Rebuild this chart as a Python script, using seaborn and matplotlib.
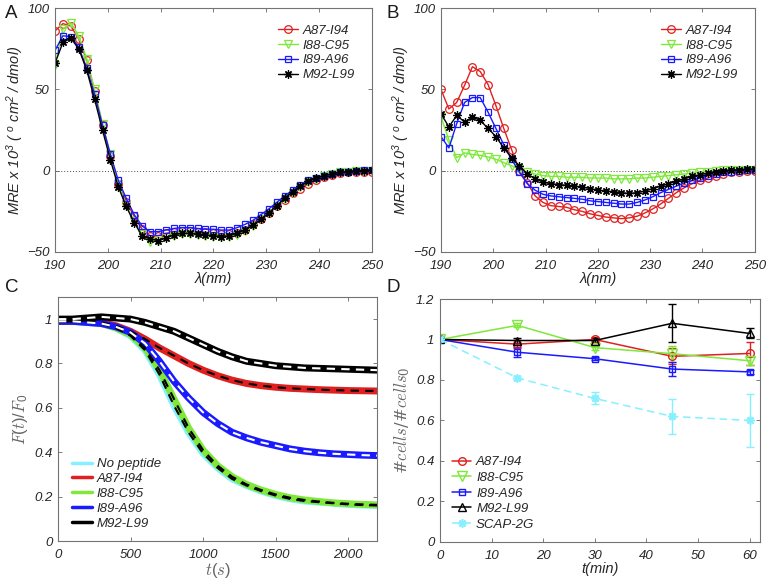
import numpy as np
import pandas as pd
import matplotlib
matplotlib.use("Agg")
import matplotlib.pyplot as plt
from matplotlib.ticker import FuncFormatter
import seaborn as sns

# ---- panel A / B: CD spectra ----
wavelength = [190, 191.5, 193, 194.5, 196, 197.5, 199, 200.5, 202, 203.5, 205,
              206.5, 208, 209.5, 211, 212.5, 214, 215.5, 217, 218.5, 220,
              221.5, 223, 224.5, 226, 227.5, 229, 230.5, 232, 233.5, 235,
              236.5, 238, 239.5, 241, 242.5, 244, 245.5, 247, 248.5, 250]

a_a87 = [86, 90.5, 89, 81, 68, 49, 28, 9, -8, -19, -28, -36, -40, -40, -38.5,
         -37.5, -37, -37, -37.5, -38, -38.5, -39, -39, -38.5, -36.5, -33,
         -29.5, -26, -22, -18, -14, -11, -8, -5.5, -4, -2.5, -1.5, -1, -1,
         -0.5, -0.5]
a_i88 = [65, 87, 91, 83, 69, 50, 29, 10, -8, -21, -31, -39, -44, -43, -41,
         -40, -39, -39, -39.5, -40, -40.5, -41, -40.5, -39.5, -37, -34, -30,
         -26, -22, -17.5, -13.5, -10, -7, -5, -3, -2, -1, -0.5, 0, 0, 0]
a_i89 = [74, 83, 82.5, 76, 63, 47, 28, 10, -6, -17, -27, -34, -37.5, -37.5,
         -36.5, -35.5, -35, -35, -35.5, -36, -36, -36.5, -36.5, -35, -33,
         -30.5, -27, -23.5, -19.5, -15.5, -12, -9, -6, -4.5, -3, -2, -1,
         -0.5, 0, 0.5, 0.5]
a_m92 = [66, 79, 81.5, 75, 62, 44, 25, 6.5, -10, -22, -32, -40, -42, -43,
         -41.5, -39.5, -38.5, -38.5, -39, -39.5, -40, -40.5, -40, -38.5,
         -36.5, -33.5, -30, -26, -21.5, -17, -13, -9.5, -6.5, -4.5, -3, -2,
         -1, -0.5, 0, 0, 0.5]

b_a87 = [50, 38, 42, 52.5, 64, 61, 53, 40, 26, 13, 0, -7.5, -15.5, -19.5,
         -21.5, -22, -22.5, -24, -25, -26.5, -27.5, -28.5, -29, -29.5, -29,
         -28, -26, -23.5, -20.5, -17, -13.5, -10.5, -8, -6, -4.5, -3, -2, -1,
         -0.5, 0, 0]
b_i88 = [33, 19, 8, 11, 10, 9.5, 8.5, 7, 5, 3, 1, -1, -2, -3, -3.5, -3.5, -4,
         -4, -4, -4.5, -4.5, -4.5, -5, -5, -5, -4.5, -4.5, -4, -3.5, -3, -2.5,
         -2, -1.5, -1, -0.5, 0, 0.3, 0.5, 0.5, 0.5, 0.5]
b_i89 = [21, 14, 29, 42, 45, 45, 36, 26, 16, 7, -1, -8, -12, -14.5, -15.5,
         -16, -16.5, -17, -17.5, -18.5, -19, -19.5, -20, -20.5, -20.5, -19.5,
         -18, -16, -13.5, -11.5, -9.5, -7.5, -6, -4.5, -3, -2, -1, -0.5, 0,
         0.5, 0.5]
b_m92 = [35, 27, 34, 30, 33, 31, 26, 21, 14, 8, 3, -2, -5, -7, -8, -8.5, -9,
         -9.5, -10, -11, -12, -12.5, -13, -13.5, -14, -13.5, -12.5, -11, -9.5,
         -8, -6.5, -5, -3.5, -2.5, -1.5, -0.5, 0, 0.5, 0.5, 1, 1]

# ---- panel C: fluorescence vs time ----
time_s = [0, 100, 200, 300, 400, 500, 600, 700, 800, 900, 1000, 1100, 1200,
          1300, 1400, 1500, 1600, 1700, 1800, 1900, 2000, 2100, 2200]
c_none = [0.99, 0.99, 0.985, 0.98, 0.96, 0.925, 0.86, 0.75, 0.61, 0.49, 0.395,
          0.33, 0.28, 0.25, 0.225, 0.205, 0.19, 0.18, 0.175, 0.17, 0.165,
          0.162, 0.16]
c_a87 = [0.99, 0.99, 0.99, 0.985, 0.97, 0.945, 0.91, 0.87, 0.835, 0.80, 0.77,
         0.745, 0.725, 0.71, 0.70, 0.693, 0.688, 0.685, 0.682, 0.68, 0.678,
         0.677, 0.676]
c_i88 = [0.99, 0.99, 0.985, 0.98, 0.96, 0.93, 0.87, 0.77, 0.64, 0.51, 0.41,
         0.34, 0.29, 0.255, 0.23, 0.21, 0.195, 0.185, 0.178, 0.172, 0.168,
         0.165, 0.163]
c_i89 = [0.99, 0.99, 0.985, 0.98, 0.965, 0.94, 0.89, 0.81, 0.72, 0.645, 0.58,
         0.53, 0.49, 0.465, 0.445, 0.43, 0.415, 0.405, 0.398, 0.393, 0.39,
         0.387, 0.385]
c_m92 = [1.0, 1.0, 1.005, 1.01, 1.005, 1.0, 0.985, 0.965, 0.945, 0.915, 0.885,
         0.855, 0.83, 0.81, 0.80, 0.79, 0.785, 0.78, 0.778, 0.776, 0.774,
         0.772, 0.77]

# ---- panel D: cell counts ----
time_min = [0, 15, 30, 45, 60]
d_a87 = [1.0, 0.977, 1.0, 0.917, 0.931]
d_a87_err = [0, 0.02, 0.01, 0.04, 0.055]
d_i88 = [1.0, 1.07, 0.96, 0.93, 0.895]
d_i88_err = [0, 0.01, 0.01, 0.04, 0.02]
d_i89 = [1.0, 0.937, 0.905, 0.854, 0.84]
d_i89_err = [0, 0.025, 0.008, 0.035, 0.008]
d_m92 = [1.0, 0.995, 0.995, 1.08, 1.03]
d_m92_err = [0, 0.01, 0.01, 0.093, 0.025]
d_scap = [1.0, 0.81, 0.709, 0.62, 0.60]
d_scap_err = [0, 0.01, 0.03, 0.085, 0.13]

RED = "#e02020"
GREEN = "#7fe83a"
BLUE = "#1a1aff"
BLACK = "black"
CYAN = "#86f0ff"
ASTERISK = (8, 2, 0)

sns.set_style("ticks")
plt.rcParams["font.family"] = ["Liberation Sans", "DejaVu Sans"]
plt.rcParams["mathtext.default"] = "regular"
plt.rcParams["xtick.direction"] = "in"
plt.rcParams["ytick.direction"] = "in"
plt.rcParams["xtick.top"] = True
plt.rcParams["ytick.right"] = True

fig = plt.figure(figsize=(7.67, 5.84), dpi=100)
ax_a = fig.add_axes([0.0717, 0.5685, 0.413, 0.4175])
ax_b = fig.add_axes([0.575, 0.5685, 0.409, 0.4175])
ax_c = fig.add_axes([0.0756, 0.0736, 0.416, 0.418])
ax_d = fig.add_axes([0.5737, 0.072, 0.417, 0.416])

fmt_g = FuncFormatter(lambda v, p: f"{v:g}")
LEG = dict(frameon=False, borderaxespad=0, handlelength=1.5,
           handletextpad=0.35, prop={"style": "italic", "size": 9.5})


def style_axes(ax):
    for s in ax.spines.values():
        s.set_color("0.45")
        s.set_linewidth(0.8)
    ax.tick_params(which="both", direction="in", top=True, right=True,
                   length=3, width=0.6, color="0.4", labelsize=9.5,
                   labelcolor="0.15")
    ax.tick_params(axis="x", pad=6)
    ax.tick_params(axis="y", pad=4)
    for lab in ax.get_xticklabels() + ax.get_yticklabels():
        lab.set_fontstyle("italic")


# spectra panels
cd_series = [("A87-I94", RED, "o", 5.5),
             ("I88-C95", GREEN, "v", 6),
             ("I89-A96", BLUE, "s", 4.5),
             ("M92-L99", BLACK, ASTERISK, 6)]
mre_label = "MRE x 10$^3$ ( $^o$ cm$^2$ / dmol)"

for ax, data in [(ax_a, [a_a87, a_i88, a_i89, a_m92]),
                 (ax_b, [b_a87, b_i88, b_i89, b_m92])]:
    ax.axhline(0, color="0.3", lw=0.7, ls=(0, (1, 2)))
    for (name, col, mk, ms), vals in zip(cd_series, data):
        sns.lineplot(x=wavelength, y=vals, ax=ax, color=col, lw=1.0,
                     marker=mk, ms=ms, mfc="none", mec=col, mew=0.9,
                     label=name)
    ax.set_xlim(190, 250)
    ax.set_ylim(-50, 100)
    ax.set_xticks(range(190, 251, 10))
    ax.set_yticks([-50, 0, 50, 100])
    ax.set_xlabel("λ(nm)", fontsize=10.5, style="italic", labelpad=0,
                  color="0.15")
    ax.set_ylabel(mre_label, fontsize=10.5, style="italic", color="0.15",
                  labelpad=1)
    ax.legend(loc="upper right", bbox_to_anchor=(0.962, 0.955),
              labelspacing=0.2, **LEG)
    style_axes(ax)

# fluorescence panel
c_series = [("No peptide", CYAN, c_none), ("A87-I94", RED, c_a87),
            ("I88-C95", GREEN, c_i88), ("I89-A96", BLUE, c_i89),
            ("M92-L99", BLACK, c_m92)]
draw_order = [0, 2, 1, 3, 4]
for i in draw_order:
    name, col, vals = c_series[i]
    sns.lineplot(x=time_s, y=vals, ax=ax_c, color=col, lw=5, label=name)
fits = [(c_none, "black"), (c_i88, "black"), (c_a87, "black"),
        (c_i89, "white"), (c_m92, "white")]
for vals, col in fits:
    sns.lineplot(x=time_s, y=vals, ax=ax_c, color=col, lw=1.5,
                 ls=(0, (4, 3)), legend=False)
handles, labels = ax_c.get_legend_handles_labels()
order = [labels.index(n) for n, _, _ in c_series]
leg = ax_c.legend([handles[k] for k in order], [labels[k] for k in order],
                  loc="lower left", bbox_to_anchor=(0.028, 0.025),
                  labelspacing=0.2, **LEG)
for line in leg.get_lines():
    line.set_linewidth(2.5)
ax_c.set_xlim(0, 2200)
ax_c.set_ylim(0, 1.1)
ax_c.set_xticks([0, 500, 1000, 1500, 2000])
ax_c.set_yticks([0, 0.2, 0.4, 0.6, 0.8, 1.0])
ax_c.yaxis.set_major_formatter(fmt_g)
ax_c.set_xlabel(r"$\mathit{t}(\mathit{s})$", fontsize=12, color="0.4",
                math_fontfamily="cm", labelpad=0)
ax_c.set_ylabel(r"$\mathit{F}(\mathit{t})/\mathit{F}_0$", fontsize=12,
                color="0.4", math_fontfamily="cm", labelpad=3)
style_axes(ax_c)

# cell count panel
d_series = [("A87-I94", RED, "o", 5.5, "-", d_a87, d_a87_err),
            ("I88-C95", GREEN, "v", 6.5, "-", d_i88, d_i88_err),
            ("I89-A96", BLUE, "s", 5, "-", d_i89, d_i89_err),
            ("M92-L99", BLACK, "^", 6, "-", d_m92, d_m92_err),
            ("SCAP-2G", CYAN, ASTERISK, 6, (0, (5, 3)), d_scap, d_scap_err)]
for name, col, mk, ms, ls, vals, err in d_series:
    ax_d.errorbar(time_min, vals, yerr=err, fmt="none", ecolor=col,
                  elinewidth=1.0, capsize=3, capthick=1.0)
for name, col, mk, ms, ls, vals, err in d_series:
    mew = 1.2 if mk == ASTERISK else 1.0
    sns.lineplot(x=time_min, y=vals, ax=ax_d, color=col, lw=1.1, ls=ls,
                 marker=mk, ms=ms, mfc="none", mec=col, mew=mew, label=name)
ax_d.legend(loc="lower left", bbox_to_anchor=(0.02, 0.025),
            labelspacing=0.25, **LEG)
ax_d.set_xlim(0, 62)
ax_d.set_ylim(0, 1.2)
ax_d.set_xticks(range(0, 61, 10))
ax_d.set_yticks([0, 0.2, 0.4, 0.6, 0.8, 1.0, 1.2])
ax_d.yaxis.set_major_formatter(fmt_g)
ax_d.set_xlabel("t(min)", fontsize=10.5, style="italic", color="0.15",
                labelpad=0)
ax_d.set_ylabel(r"#$\mathit{cells}/$#$\mathit{cells}_0$", fontsize=12,
                color="0.4", family=["DejaVu Serif"], math_fontfamily="cm",
                labelpad=3)
style_axes(ax_d)

for letter, x, y in [("A", 0.006, 0.992), ("B", 0.504, 0.992),
                     ("C", 0.006, 0.523), ("D", 0.504, 0.523)]:
    fig.text(x, y, letter, fontsize=13.5, va="top", ha="left", color="0.1")

fig.savefig("out.png", dpi=100)
